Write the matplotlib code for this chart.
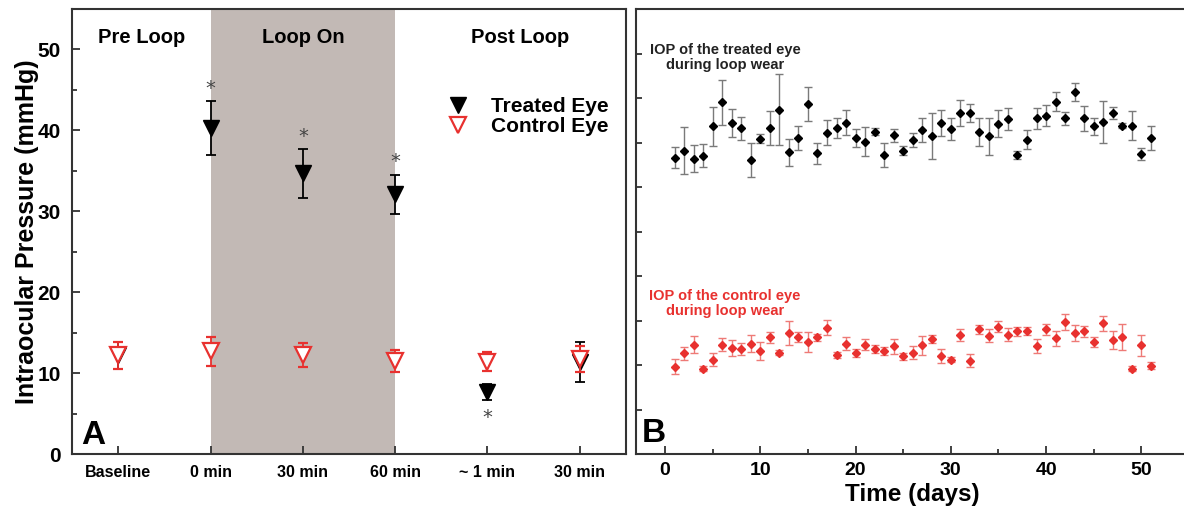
import matplotlib.pyplot as plt
import numpy as np
from matplotlib.lines import Line2D

plt.rcParams['font.family'] = ['Liberation Sans', 'DejaVu Sans']
plt.rcParams['font.weight'] = 'bold'
plt.rcParams['axes.labelweight'] = 'bold'

RED = '#e8312f'
SHADE = '#c2b9b5'
AX = '#333333'

# Panel A: IOP at each stage
stages = ['Baseline', '0 min', '30 min', '60 min', '~ 1 min', '30 min']
treated_a = [12.2, 40.3, 34.7, 32.1, 7.7, 11.4]
treated_a_err = [1.7, 3.3, 3.0, 2.4, 1.0, 2.5]
control_a = [12.2, 12.7, 12.2, 11.5, 11.4, 11.7]
control_a_err = [1.7, 1.8, 1.5, 1.4, 1.2, 1.6]
# significance: +1 above, -1 below, 0 none
signif = [0, 1, 1, 1, -1, 0]
phases = ['Pre Loop', 'Loop On', 'Post Loop']

# Panel B: daily IOP during loop wear
days = np.arange(1, 52)
treated_b = [33.3, 34.1, 33.2, 33.5, 36.8, 39.5, 37.2, 36.6, 33.0, 35.4,
             36.6, 38.7, 33.9, 35.5, 39.3, 33.8, 36.1, 36.6, 37.2, 35.5,
             35.1, 36.2, 33.6, 35.8, 34.1, 35.3, 36.4, 35.7, 37.2, 36.5,
             38.3, 38.3, 36.2, 35.7, 37.1, 37.6, 33.6, 35.3, 37.7, 38.0,
             39.6, 37.7, 40.7, 37.7, 36.8, 37.3, 38.3, 36.9, 36.9, 33.7, 35.5]
treated_b_err = [1.2, 2.6, 1.5, 1.3, 2.2, 2.5, 1.6, 1.3, 1.9, 0.5,
                 1.9, 4.0, 1.5, 1.3, 1.9, 1.2, 1.4, 1.1, 1.4, 1.0,
                 1.6, 0.4, 1.3, 0.7, 0.5, 0.75, 1.35, 2.6, 1.5, 1.2,
                 1.5, 1.05, 1.55, 2.05, 1.5, 1.25, 0.5, 1.05, 1.2, 1.2,
                 1.1, 0.7, 1.0, 1.4, 1.0, 2.35, 0.7, 0.3, 1.6, 0.7, 1.3]
control_b = [9.8, 11.3, 12.3, 9.6, 10.6, 12.3, 11.9, 11.8, 12.4, 11.6,
             13.1, 11.4, 13.6, 13.2, 12.6, 13.1, 14.2, 11.1, 12.4, 11.3,
             12.3, 11.8, 11.6, 12.1, 11.0, 11.4, 12.2, 12.9, 11.0, 10.6,
             13.4, 10.5, 14.0, 13.3, 14.3, 13.4, 13.8, 13.8, 12.1, 14.0,
             13.0, 14.8, 13.6, 13.8, 12.6, 14.7, 12.8, 13.1, 9.6, 12.2, 9.9]
control_b_err = [0.83, 0.71, 0.94, 0.3, 0.75, 0.7, 0.9, 0.63, 0.94, 1.03,
                 0.65, 0.3, 1.39, 0.56, 1.16, 0.43, 0.86, 0.35, 0.69, 0.45,
                 0.63, 0.47, 0.45, 0.82, 0.4, 0.71, 1.03, 0.48, 0.83, 0.3,
                 0.7, 0.73, 0.5, 0.7, 0.6, 0.71, 0.52, 0.48, 0.77, 0.64,
                 0.86, 0.92, 0.88, 0.63, 0.56, 0.83, 1.04, 1.46, 0.3, 1.16, 0.4]

fig = plt.figure(figsize=(11.84, 5.17), dpi=100)
W, H = 1184, 517
axA = fig.add_axes([72 / W, (H - 454) / H, 554 / W, 445 / H])
axB = fig.add_axes([636 / W, (H - 454) / H, 552 / W, 445 / H])

# ---------- Panel A ----------
x = np.arange(1, len(stages) + 1)
axA.axvspan(2, 4, color=SHADE, lw=0, zorder=0)
axA.errorbar(x, treated_a, yerr=treated_a_err, fmt='v', color='black', ms=11,
             ecolor='black', elinewidth=1.3, capsize=3.5, capthick=1.3, zorder=3)
axA.errorbar(x, control_a, yerr=control_a_err, fmt='v', color=RED, ms=11,
             mfc='white', mec=RED, mew=1.6, ecolor=RED, elinewidth=1.3,
             capsize=3.5, capthick=1.3, zorder=4)
for xi, m, e, s in zip(x, treated_a, treated_a_err, signif):
    if s > 0:
        axA.text(xi, m + e + 1.6, '*', ha='center', va='center', fontsize=14,
                 color='#444444', fontweight='normal', family='DejaVu Sans')
    elif s < 0:
        axA.text(xi, m - 3.2, '*', ha='center', va='center', fontsize=14,
                 color='#444444', fontweight='normal', family='DejaVu Sans')

axA.set_xlim(0.5, 6.5)
axA.set_ylim(0, 55)
axA.set_xticks(x)
axA.set_xticklabels(stages, fontsize=11.5)
axA.set_yticks([0, 10, 20, 30, 40, 50])
axA.set_yticks([5, 15, 25, 35, 45], minor=True)
axA.tick_params(axis='y', labelsize=15)
axA.set_ylabel('Intraocular Pressure (mmHg)', fontsize=18, labelpad=-1)
for xt, label in zip([1.25, 3, 5.35], phases):
    axA.text(xt, 51.5, label, ha='center', va='center', fontsize=14.5)
axA.text(0.6, 2.3, 'A', fontsize=24, ha='left', va='center')

handles = [Line2D([], [], marker='v', ls='none', color='black', ms=11),
           Line2D([], [], marker='v', ls='none', mfc='white', mec=RED, mew=1.6, ms=11)]
axA.legend(handles, ['Treated Eye', 'Control Eye'], loc='upper left',
           bbox_to_anchor=(0.655, 0.826), frameon=False, fontsize=15,
           handlelength=1.2, handletextpad=1.0, labelspacing=0.05, borderpad=0)

# ---------- Panel B ----------
axB.errorbar(days, treated_b, yerr=treated_b_err, fmt='D', color='black', ms=4.5,
             ecolor='#7a7a7a', elinewidth=1.0, capsize=2.8, capthick=1.0, zorder=3)
axB.errorbar(days, control_b, yerr=control_b_err, fmt='D', color=RED, ms=4.5,
             ecolor='#ee7a76', elinewidth=1.0, capsize=2.8, capthick=1.0, zorder=3)
axB.text(6.3, 44.6, 'IOP of the treated eye\nduring loop wear', ha='center',
         va='center', multialignment='center', fontsize=10.5, color='#222222',
         linespacing=1.1)
axB.text(6.3, 16.9, 'IOP of the control eye\nduring loop wear', ha='center',
         va='center', multialignment='center', fontsize=10.5, color=RED,
         linespacing=1.1)
axB.set_xlim(-3.05, 54.9)
axB.set_ylim(0, 50)
axB.set_xticks([0, 10, 20, 30, 40, 50])
axB.set_xticks([5, 15, 25, 35, 45], minor=True)
axB.set_yticks(np.arange(0, 51, 5))
axB.set_yticklabels([])
axB.tick_params(axis='x', labelsize=14)
axB.set_xlabel('Time (days)', fontsize=17.5, labelpad=3)
axB.text(-2.4, 2.3, 'B', fontsize=24, ha='left', va='center')

for ax in (axA, axB):
    for sp in ax.spines.values():
        sp.set_color(AX)
        sp.set_linewidth(1.5)
    ax.tick_params(which='major', direction='in', length=6, width=1.3, color=AX)
    ax.tick_params(which='minor', direction='in', length=3.5, width=1.3, color=AX)
    ax.tick_params(axis='both', pad=8)
axB.spines['right'].set_visible(False)
axB.tick_params(axis='y', which='major', length=4)
axB.tick_params(axis='x', pad=6)

fig.savefig('out.png', dpi=100)
